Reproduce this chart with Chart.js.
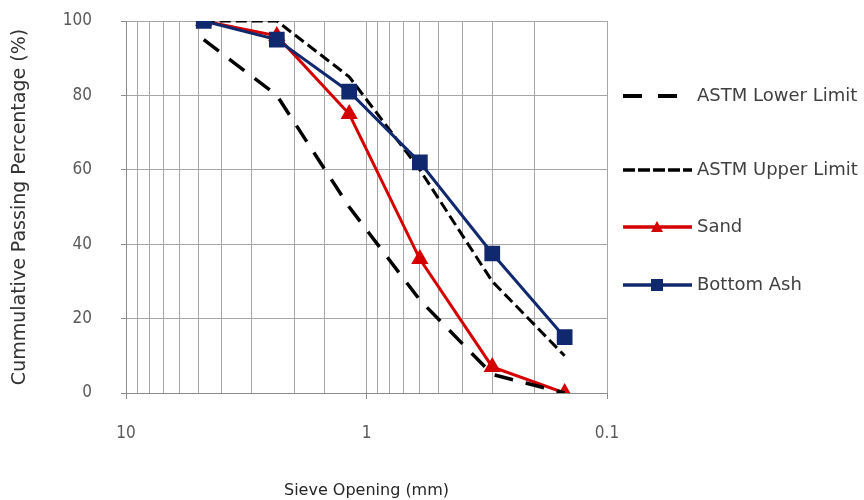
<!DOCTYPE html>
<html>
<head>
<meta charset="utf-8">
<script src="https://cdn.jsdelivr.net/npm/chart.js@4.4.1/dist/chart.umd.min.js"></script>
<style>
  html, body { margin: 0; padding: 0; background: #fff; }
  #wrap { width: 864px; height: 500px; }
</style>
</head>
<body>
<div id="wrap"><canvas id="gradChart"></canvas></div>
<script>
// sieve openings (mm) and cumulative passing (%)
const sieveSizes = [4.75, 2.36, 1.18, 0.6, 0.3, 0.15];
const lowerLimit = [95, 80, 50, 25, 5, 0];
const upperLimit = [100, 100, 85, 60, 30, 10];
const sand = [100, 96, 75, 36, 7, 0];
const bottomAsh = [100, 95, 81, 62, 37.5, 15];

const seriesNames = ['ASTM Lower Limit', 'ASTM Upper Limit', 'Sand', 'Bottom Ash'];
const yTicks = [0, 20, 40, 60, 80, 100];
const xTickLabels = ['10', '1', '0.1'];

const toPoints = vals => sieveSizes.map((s, i) => ({ x: s, y: vals[i] }));

const tickFont = { family: "'Liberation Sans Narrow', 'DejaVu Sans Condensed', 'Liberation Sans', sans-serif", size: 17 };
const textFont = "'DejaVu Sans', 'Noto Sans', sans-serif";

const isDecade = v => {
  const l = Math.log10(v);
  return Math.abs(l - Math.round(l)) < 1e-6;
};

// legend on the right, drawn by hand so the marker sits on the line
const legendRows = [96, 170, 227, 285];
const sideLegend = {
  id: 'sideLegend',
  afterDraw(chart) {
    const ctx = chart.ctx;
    chart.data.datasets.forEach((ds, i) => {
      const y = legendRows[i];
      ctx.save();
      ctx.strokeStyle = ds.borderColor;
      ctx.lineWidth = ds.borderWidth + 0.5;
      ctx.setLineDash(ds.legendDash || []);
      ctx.beginPath();
      ctx.moveTo(623, y);
      ctx.lineTo(692, y);
      ctx.stroke();
      ctx.setLineDash([]);
      ctx.fillStyle = ds.pointBackgroundColor;
      if (ds.pointStyle === 'rect') {
        ctx.fillRect(651, y - 6, 12, 12);
      } else if (ds.pointStyle === 'triangle') {
        ctx.beginPath();
        ctx.moveTo(657, y - 6);
        ctx.lineTo(663, y + 5);
        ctx.lineTo(651, y + 5);
        ctx.closePath();
        ctx.fill();
      }
      ctx.fillStyle = '#404040';
      ctx.font = '18px ' + textFont;
      ctx.textBaseline = 'middle';
      ctx.fillText(seriesNames[i], 697, y);
      ctx.restore();
    });
  }
};

new Chart(document.getElementById('gradChart'), {
  type: 'line',
  data: {
    datasets: [
      {
        label: seriesNames[0],
        data: toPoints(lowerLimit),
        borderColor: '#000000',
        borderWidth: 3.5,
        borderDash: [19, 13],
        legendDash: [19, 16],
        pointRadius: 0,
        pointStyle: false,
        order: 1
      },
      {
        label: seriesNames[1],
        data: toPoints(upperLimit),
        borderColor: '#000000',
        borderWidth: 3,
        borderDash: [11, 5],
        legendDash: [12, 3],
        pointRadius: 0,
        pointStyle: false,
        order: 2
      },
      {
        label: seriesNames[2],
        data: toPoints(sand),
        borderColor: '#d40000',
        backgroundColor: '#d40000',
        pointBackgroundColor: '#d40000',
        pointBorderColor: '#d40000',
        borderWidth: 3,
        pointStyle: 'triangle',
        pointRadius: 7,
        order: 3
      },
      {
        label: seriesNames[3],
        data: toPoints(bottomAsh),
        borderColor: '#10286e',
        backgroundColor: '#10286e',
        pointBackgroundColor: '#10286e',
        pointBorderColor: '#10286e',
        borderWidth: 3,
        pointStyle: 'rect',
        pointRadius: 9,
        order: 0
      }
    ]
  },
  options: {
    responsive: true,
    maintainAspectRatio: false,
    animation: false,
    layout: { autoPadding: false, padding: { left: 9, right: 257, top: 21, bottom: 0 } },
    plugins: {
      legend: { display: false },
      tooltip: { enabled: false }
    },
    scales: {
      x: {
        type: 'logarithmic',
        reverse: true,
        min: 0.1,
        max: 10,
        afterFit: s => { s.height = 107; },
        grid: {
          color: '#a6a6a6',
          lineWidth: 1,
          tickLength: 6,
          tickColor: c => (c.tick && isDecade(c.tick.value)) ? '#8c8c8c' : 'rgba(0,0,0,0)'
        },
        border: { color: '#8c8c8c' },
        ticks: {
          autoSkip: false,
          maxRotation: 0,
          padding: 24,
          color: '#595959',
          font: tickFont,
          callback: v => isDecade(v) ? xTickLabels[Math.round(1 - Math.log10(v))] : ''
        },
        title: {
          display: true,
          text: 'Sieve Opening (mm)',
          color: '#262626',
          font: { family: textFont, size: 16 },
          padding: 0
        }
      },
      y: {
        min: 0,
        max: 100,
        afterFit: s => { s.width = 117; s.paddingTop = 0; s.paddingBottom = 0; },
        afterBuildTicks: s => { s.ticks = yTicks.map(v => ({ value: v })); },
        grid: { color: '#a6a6a6', lineWidth: 1, tickLength: 5, tickColor: '#8c8c8c' },
        border: { color: '#8c8c8c' },
        ticks: {
          padding: 29,
          color: '#595959',
          font: tickFont
        },
        title: {
          display: true,
          text: 'Cummulative Passing Percentage (%)',
          color: '#333333',
          font: { family: textFont, size: 19 },
          padding: 0
        }
      }
    }
  },
  plugins: [sideLegend]
});
</script>
</body>
</html>
